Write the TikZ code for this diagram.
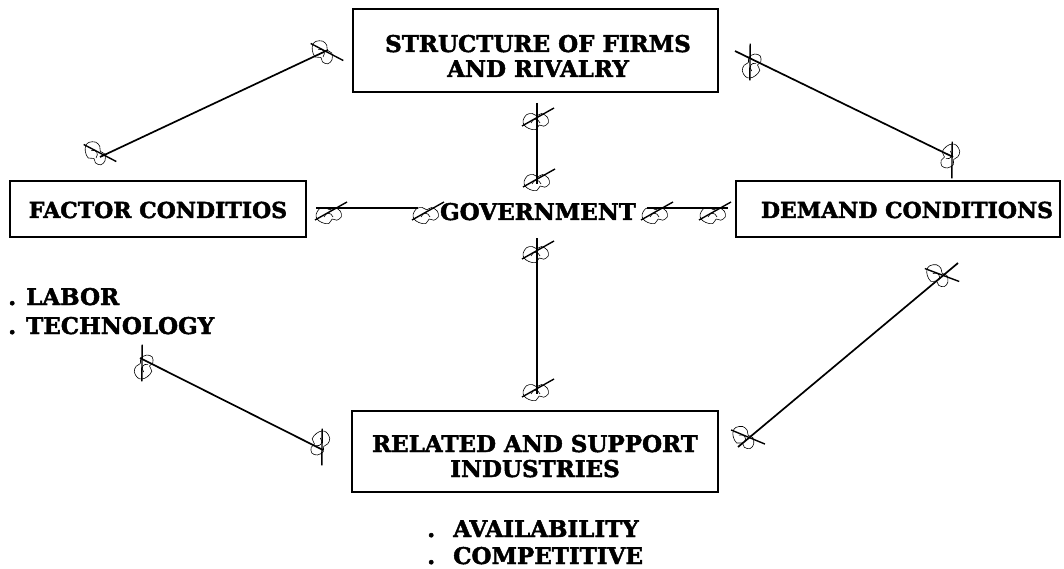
\documentclass[tikz,border=0pt]{standalone}
\usepackage{fontspec}
\setmainfont{DejaVu Serif}[BoldFeatures={FakeBold=2}]
\begin{document}
\begin{tikzpicture}[x=1pt,y=-1pt,
  box/.style={draw,line width=1.7pt,inner sep=0pt},
  txt/.style={inner sep=0pt,anchor=base,font=\fontsize{23}{27}\selectfont\bfseries},
  lbl/.style={txt,anchor=base west},
  link/.style={line width=1.7pt},
  penmark/.pic={
    \draw[line width=1.4pt] (-16,9) -- (16,-9);
    \draw[line width=0.6pt,scale=1.15] plot[smooth cycle,tension=0.6] coordinates
      {(-13,3) (-10,-2) (-5,-3) (-1,-1) (3,-3) (8,0) (9,5) (5,8) (1,7) (-2,11) (-8,10) (-12,7)};
    \draw[line width=0.6pt] (-7,6) .. controls (-5,1) and (0,1) .. (2,6);
  }]
\useasboundingbox (0,0) rectangle (1064,569);
% boxes
\node[box,minimum width=365pt,minimum height=83pt] (firms) at (535.5,50.5) {};
\node[box,minimum width=296pt,minimum height=56pt] (factor) at (158,209) {};
\node[box,minimum width=324pt,minimum height=56pt] (demand) at (898,209) {};
\node[box,minimum width=366pt,minimum height=81pt] (related) at (535,451.5) {};
% texts
\node[txt] (firmsA) at (538,52) {STRUCTURE OF FIRMS};
\node[txt] (firmsB) at (538,77) {AND RIVALRY};
\node[txt,font=\fontsize{22}{27}\selectfont\bfseries] (factorT) at (158,218) {FACTOR CONDITIOS};
\node[txt,font=\fontsize{22}{27}\selectfont\bfseries] (demandT) at (907,218) {DEMAND CONDITIONS};
\node[txt] (relA) at (535,452) {RELATED AND SUPPORT};
\node[txt] (relB) at (535,477) {INDUSTRIES};
\node[txt] (gov) at (538,220) {GOVERNMENT};
% labels
\node[lbl] (lab) at (8,305) {.\hspace{10pt}LABOR};
\node[lbl] (tech) at (8,334) {.\hspace{10pt}TECHNOLOGY};
\node[lbl] (avail) at (427,537) {.\hspace{18pt}AVAILABILITY};
\node[lbl] (comp) at (427,564) {.\hspace{18pt}COMPETITIVE};
% coordinates
\coordinate (hl1) at (316,208); \coordinate (hl2) at (418,208);
\coordinate (hr1) at (647,208); \coordinate (hr2) at (728,208);
\coordinate (vu1) at (537,103); \coordinate (vu2) at (537,184);
\coordinate (vd1) at (537,238); \coordinate (vd2) at (537,394);
\coordinate (tl1) at (100,157); \coordinate (tl2) at (328,50);
\coordinate (tr1) at (735,51); \coordinate (tr2) at (953,157);
\coordinate (br1) at (738,447); \coordinate (br2) at (958,263);
\coordinate (bl1) at (140,358); \coordinate (bl2) at (323,450);
% links
\draw[link] (hl1) -- (hl2);
\draw[link] (hr1) -- (hr2);
\draw[link] (vu1) -- (vu2);
\draw[link] (vd1) -- (vd2);
\draw[link] (tl1) -- (tl2);
\draw[link] (tr1) -- (tr2);
\draw[link] (br1) -- (br2);
\draw[link] (bl1) -- (bl2);
% pen marks
\pic at (331,211) {penmark};
\pic at (428,211) {penmark};
\pic at (657,211) {penmark};
\pic at (715,211) {penmark};
\pic at (538,117) {penmark};
\pic at (539,178) {penmark};
\pic at (538,250) {penmark};
\pic at (538,388) {penmark};
\pic[rotate=-57] at (327,52) {penmark};
\pic[rotate=-57] at (100,153) {penmark};
\pic[rotate=60] at (750,62) {penmark};
\pic[rotate=-120] at (952,160) {penmark};
\pic[rotate=-50] at (942,275) {penmark};
\pic[rotate=-52] at (748,437) {penmark};
\pic[rotate=60] at (142,363) {penmark};
\pic[rotate=-120] at (322,447) {penmark};
\end{tikzpicture}
\end{document}
